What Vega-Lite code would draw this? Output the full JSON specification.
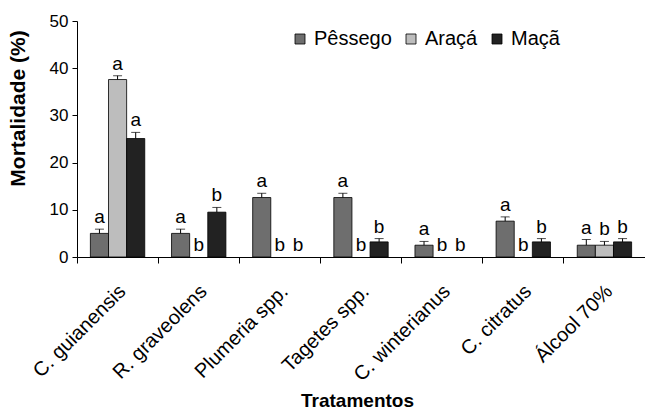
{
"$schema": "https://vega.github.io/schema/vega-lite/v6.json",
"width": 568, "height": 236,
"autosize": {"type": "none"},
"padding": {"left": 77, "top": 21, "right": 0, "bottom": 154},
"background": "white",
"config": {"font": "Liberation Sans", "view": {"stroke": null}},
"data": {"values": [
{"trat": "C. guianensis", "fruta": "Pêssego", "valor": 5, "sup": 5.9, "letra": "a", "ypos": 5.9},
{"trat": "C. guianensis", "fruta": "Araçá", "valor": 37.6, "sup": 38.4, "letra": "a", "ypos": 38.4},
{"trat": "C. guianensis", "fruta": "Maçã", "valor": 25.1, "sup": 26.4, "letra": "a", "ypos": 26.4},
{"trat": "R. graveolens", "fruta": "Pêssego", "valor": 5, "sup": 5.9, "letra": "a", "ypos": 5.9},
{"trat": "R. graveolens", "fruta": "Araçá", "valor": 0, "sup": 0, "letra": "b", "ypos": 0},
{"trat": "R. graveolens", "fruta": "Maçã", "valor": 9.5, "sup": 10.5, "letra": "b", "ypos": 10.5},
{"trat": "Plumeria spp.", "fruta": "Pêssego", "valor": 12.6, "sup": 13.5, "letra": "a", "ypos": 13.5},
{"trat": "Plumeria spp.", "fruta": "Araçá", "valor": 0, "sup": 0, "letra": "b", "ypos": 0},
{"trat": "Plumeria spp.", "fruta": "Maçã", "valor": 0, "sup": 0, "letra": "b", "ypos": 0},
{"trat": "Tagetes spp.", "fruta": "Pêssego", "valor": 12.6, "sup": 13.5, "letra": "a", "ypos": 13.5},
{"trat": "Tagetes spp.", "fruta": "Araçá", "valor": 0, "sup": 0, "letra": "b", "ypos": 0},
{"trat": "Tagetes spp.", "fruta": "Maçã", "valor": 3.2, "sup": 3.9, "letra": "b", "ypos": 3.9},
{"trat": "C. winterianus", "fruta": "Pêssego", "valor": 2.5, "sup": 3.3, "letra": "a", "ypos": 3.3},
{"trat": "C. winterianus", "fruta": "Araçá", "valor": 0, "sup": 0, "letra": "b", "ypos": 0},
{"trat": "C. winterianus", "fruta": "Maçã", "valor": 0, "sup": 0, "letra": "b", "ypos": 0},
{"trat": "C. citratus", "fruta": "Pêssego", "valor": 7.6, "sup": 8.5, "letra": "a", "ypos": 8.5},
{"trat": "C. citratus", "fruta": "Araçá", "valor": 0, "sup": 0, "letra": "b", "ypos": 0},
{"trat": "C. citratus", "fruta": "Maçã", "valor": 3.2, "sup": 3.9, "letra": "b", "ypos": 3.9},
{"trat": "Álcool 70%", "fruta": "Pêssego", "valor": 2.5, "sup": 3.7, "letra": "a", "ypos": 3.7},
{"trat": "Álcool 70%", "fruta": "Araçá", "valor": 2.5, "sup": 3.3, "letra": "b", "ypos": 3.3},
{"trat": "Álcool 70%", "fruta": "Maçã", "valor": 3.2, "sup": 3.9, "letra": "b", "ypos": 3.9}
]},
"encoding": {
"x": {"field": "trat", "type": "nominal",
 "sort": ["C. guianensis", "R. graveolens", "Plumeria spp.", "Tagetes spp.", "C. winterianus", "C. citratus", "Álcool 70%"],
 "scale": {"paddingInner": 0.33, "paddingOuter": 0.165},
 "axis": {"title": "Tratamentos", "bandPosition": -0.246, "labelOffset": 5, "labelAngle": -45, "labelAlign": "right", "labelBaseline": "middle", "labelPadding": 25, "labelFontSize": 20, "labelColor": "black", "tickColor": "black", "domainColor": "black", "tickSize": 6, "titleFontSize": 19, "titleFontWeight": "bold", "titleColor": "black", "titleX": 280, "titleY": 149, "titleBaseline": "alphabetic", "titleAlign": "center"}},
"xOffset": {"field": "fruta", "type": "nominal", "sort": ["Pêssego", "Araçá", "Maçã"], "scale": {"paddingInner": 0, "paddingOuter": 0}}
},
"layer": [
{"transform": [{"filter": "datum.valor > 0"}],
 "mark": {"type": "bar", "stroke": "black", "strokeWidth": 0.8},
 "encoding": {
  "y": {"field": "valor", "type": "quantitative", "scale": {"domain": [0, 50]},
   "axis": {"title": "Mortalidade (%)", "values": [0, 10, 20, 30, 40, 50], "grid": false, "labelFontSize": 17, "labelColor": "black", "tickColor": "black", "domainColor": "black", "tickSize": 5, "labelPadding": 4, "titleFontSize": 21, "titleFontWeight": "bold", "titleColor": "black", "titleX": -59, "titleY": 87, "titleBaseline": "middle", "titleAlign": "center"}},
  "fill": {"field": "fruta", "type": "nominal", "sort": ["Pêssego", "Araçá", "Maçã"],
   "scale": {"domain": ["Pêssego", "Araçá", "Maçã"], "range": ["#6e6e6e", "#bdbdbd", "#222222"]},
   "legend": {"title": null, "orient": "none", "legendX": 213, "legendY": 8, "direction": "horizontal", "symbolType": "square", "symbolSize": 100, "symbolStrokeColor": "black", "symbolStrokeWidth": 0.8, "labelFontSize": 20, "labelColor": "black", "labelOffset": 4, "columnPadding": 9}}
 }},
{"transform": [{"filter": "datum.valor > 0"}],
 "mark": {"type": "rule", "color": "black", "strokeWidth": 1},
 "encoding": {"y": {"field": "valor", "type": "quantitative"}, "y2": {"field": "sup"}}},
{"transform": [{"filter": "datum.valor > 0"}],
 "mark": {"type": "tick", "color": "black", "thickness": 1, "size": 9},
 "encoding": {"y": {"field": "sup", "type": "quantitative"}}},
{"mark": {"type": "text", "baseline": "bottom", "dy": -2, "fontSize": 19, "color": "black"},
 "encoding": {"y": {"field": "ypos", "type": "quantitative"}, "text": {"field": "letra"}}}
]
}
